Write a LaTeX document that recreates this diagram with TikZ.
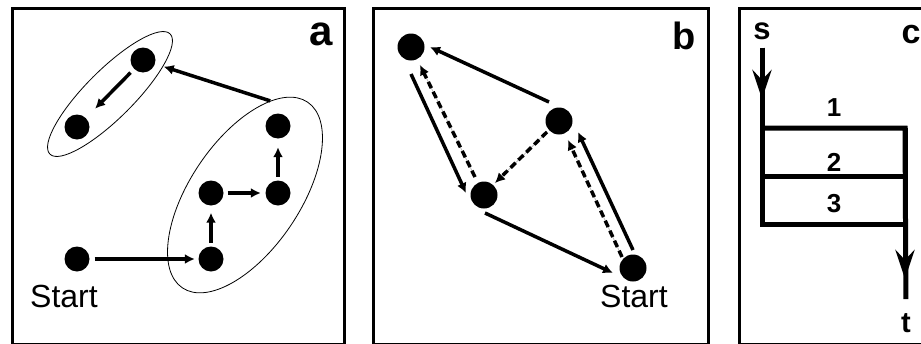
\documentclass[tikz,border=0pt]{standalone}
\usepackage{fontspec}
\setmainfont{Liberation Sans}
\usetikzlibrary{arrows.meta,shapes.geometric}

\begin{document}
\begin{tikzpicture}[x=1pt,y=-1pt]
  \tikzstyle{dot}=[circle,fill=black,minimum size=25pt,inner sep=0pt]
  \tikzstyle{bigdot}=[circle,fill=black,minimum size=27pt,inner sep=0pt]
  \tikzstyle{panel}=[line width=3pt]
  \tikzstyle{group}=[ellipse,draw,line width=0.8pt,inner sep=0pt]
  \tikzstyle{arr}=[line width=3.5pt,-{Latex[length=10pt,width=10pt]}]
  \tikzstyle{darr}=[line width=3.5pt,dash pattern=on 7pt off 4pt,-{Latex[length=10pt,width=10pt]},
    preaction={draw,black!25,line width=0.8pt,solid,-}]
  \tikzstyle{flow}=[line width=5pt]
  \tikzstyle{barb}=[line width=5pt,-{Stealth[length=29pt,width=19pt,inset=10pt]}]
  \tikzstyle{start}=[inner sep=0pt,font=\fontsize{32}{32}\selectfont]
  \tikzstyle{tag}=[inner sep=0pt,font=\bfseries\fontsize{42}{42}\selectfont]
  \tikzstyle{num}=[inner sep=0pt,font=\bfseries\fontsize{26}{26}\selectfont]

  \useasboundingbox (0,0) rectangle (921,343);

  \draw[panel] (12,8) rectangle (344,344);
  \draw[panel] (373,8) rectangle (708,344);
  \draw[panel] (739,8) rectangle (930,344);

  % a
  \node[tag] (la) at (321,34) {a};
  \node[group,minimum width=170pt,minimum height=48pt,rotate=45] (gA) at (110,94) {};
  \node[group,minimum width=224pt,minimum height=110pt,rotate=56] (gB) at (245,195) {};
  \node[dot] (a1) at (143,60) {};
  \node[dot] (a2) at (77,127) {};
  \node[dot] (a3) at (278,126) {};
  \node[dot] (a4) at (278,193) {};
  \node[dot] (a5) at (211,193) {};
  \node[dot] (a6) at (211,259) {};
  \node[dot] (a0) at (77,259) {};
  \node[start] (sa) at (64,296) {Start};

  \draw[arr,shorten <=5pt,shorten >=3.5pt] (a0) -- (a6);
  \draw[arr,shorten <=3.5pt,shorten >=7pt] (a6) -- (a5);
  \draw[arr,shorten <=4pt,shorten >=4.5pt] (a5) -- (a4);
  \draw[arr,shorten <=3.5pt,shorten >=8.5pt] (a4) -- (a3);
  \draw[arr,shorten >=9pt] (gB.19) -- (a1);
  \draw[arr,shorten <=5pt,shorten >=13pt] (a1) -- (a2);

  % b
  \node[tag,font=\bfseries\fontsize{38}{38}\selectfont] (lb) at (684,36) {b};
  \node[bigdot] (b1) at (411,47) {};
  \node[bigdot] (b2) at (559,121) {};
  \node[bigdot] (b3) at (484,195) {};
  \node[bigdot] (b4) at (633,268) {};
  \node[start] (sb) at (634,296) {Start};

  \draw[arr] ([shift={(-10,-19)}]b2.center) -- ([shift={(19,0)}]b1.center);
  \draw[arr] ([shift={(0,27)}]b1.center) -- ([shift={(-18,-2)}]b3.center);
  \draw[darr] ([shift={(-9,-18)}]b3.center) -- ([shift={(9,18)}]b1.center);
  \draw[darr] ([shift={(-12,11)}]b2.center) -- ([shift={(11,-12)}]b3.center);
  \draw[arr] ([shift={(1,18)}]b3.center) -- ([shift={(-20,5)}]b4.center);
  \draw[arr] ([shift={(0,-18)}]b4.center) -- ([shift={(19,11)}]b2.center);
  \draw[darr] ([shift={(-11,-11)}]b4.center) -- ([shift={(9,19)}]b2.center);

  % c
  \node[tag,font=\bfseries\fontsize{34}{34}\selectfont] (lc) at (911,35) {c};
  \node[num,font=\bfseries\fontsize{31}{31}\selectfont] (s) at (762,31) {s};
  \node[num,font=\bfseries\fontsize{29}{29}\selectfont] (t) at (906,323) {t};
  \coordinate (c1) at (762,128);
  \coordinate (c2) at (905,128);
  \coordinate (c3) at (762,176);
  \coordinate (c4) at (905,176);
  \coordinate (c5) at (762,224);
  \coordinate (c6) at (905,224);
  \coordinate (sArr) at (762,99);
  \coordinate (tArr) at (905,279);

  \draw[flow,shorten <=8pt] (s.south) -- (c5) -- (c6);
  \draw[flow,shorten >=14pt] (c1) -- (c2) -- (t.north);
  \draw[flow] (c3) -- (c4);
  \draw[barb,shorten <=8pt] (s.south) -- (sArr);
  \draw[barb] (c2) -- (tArr);

  \node[num] (n1) at (834,108) {1};
  \node[num] (n2) at (834,162) {2};
  \node[num] (n3) at (834,204) {3};
\end{tikzpicture}
\end{document}
